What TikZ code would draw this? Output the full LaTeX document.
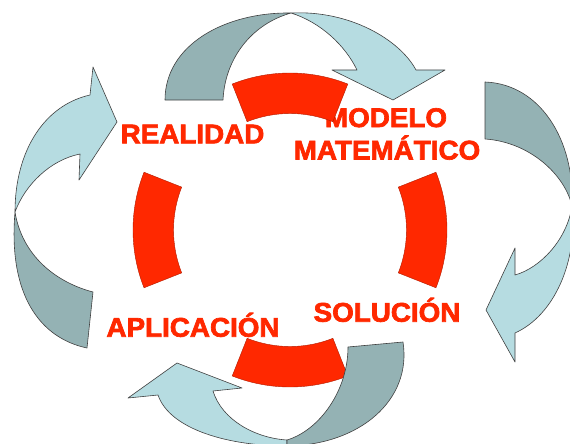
\documentclass[tikz,border=0pt]{standalone}
\usepackage{fontspec}
\setmainfont{Liberation Sans}
\newfontfamily\labelfont{Liberation Sans}[UprightFont={* Bold},UprightFeatures={FakeBold=2.5}]
\usetikzlibrary{calc}
\definecolor{backband}{RGB}{148,178,180}
\definecolor{frontband}{RGB}{182,220,225}
\definecolor{ringred}{RGB}{255,40,0}
\newcommand{\widelabel}[1]{\scalebox{1.03}[1]{#1}}
\begin{document}
\begin{tikzpicture}[x=1pt,y=-1pt,
  bandback/.style={fill=backband,draw=black!75,line width=0.6pt,line join=round},
  bandfront/.style={fill=frontband,draw=black!75,line width=0.6pt,line join=round},
  ringpiece/.style={fill=ringred,draw=ringred!70!black,line width=0.4pt},
  stagelabel/.style={anchor=base,text=ringred,font=\fontsize{27}{27}\selectfont\labelfont,inner sep=0pt}]
\useasboundingbox (0,0) rectangle (570,444);
\clip (0,0) rectangle (570,444);
% labels (drawn first: the ring covers part of the M)
\node[stagelabel] (realidad) at (192.5,143.3) {\widelabel{REALIDAD}};
\node[stagelabel] (modelo) at (386,127) {\widelabel{MODELO}};
\node[stagelabel] (matematico) at (387,159.5) {\widelabel{MATEMÁTICO}};
\node[stagelabel] (solucion) at (387,321.7) {\widelabel{SOLUCIÓN}};
\node[stagelabel] (aplicacion) at (193,336.7) {\widelabel{APLICACIÓN}};
% red ring pieces
\coordinate (c) at (290,230);
\foreach \m in {0,90,180,270}{
  \draw[ringpiece] ($(c)+(\m-21.6:157)$) arc[start angle=\m-21.6,end angle=\m+21.6,radius=157]
    -- ($(c)+(\m+21.6:116.5)$) arc[start angle=\m+21.6,end angle=\m-21.6,radius=116.5] -- cycle;
}
% top arrow
\draw[bandback] (165,100) -- (223,100) .. controls (225,58) and (252,24) .. (291,13)
  .. controls (225,12) and (165,45) .. (165,100) -- cycle;
\draw[bandfront] (291,13) .. controls (350,10) and (400,40) .. (416,70) -- (445,70) -- (393,100)
  -- (332,70) -- (357,70) .. controls (345,45) and (320,22) .. (291,13) -- cycle;
% right arrow
\draw[bandback] (485,82) .. controls (540,84) and (575,140) .. (572,206)
  .. controls (565,175) and (530,142) .. (485,139) -- cycle;
\draw[bandfront] (572,206) .. controls (578,260) and (555,315) .. (515,333) -- (515,362) -- (486,310)
  -- (515,248) -- (515,275) .. controls (540,268) and (567,240) .. (572,206) -- cycle;
% left arrow
\draw[bandback] (87,348) .. controls (40,338) and (8,295) .. (15,212)
  .. controls (22,255) and (55,282) .. (93,292) -- cycle;
\draw[bandfront] (15,212) .. controls (15,150) and (45,105) .. (90,95) -- (93,67) -- (117,122)
  -- (79,180) -- (80,154) .. controls (50,160) and (25,185) .. (15,212) -- cycle;
% bottom arrow
\draw[bandfront] (158,395) .. controls (170,430) and (230,446) .. (287,446) -- (287,440)
  .. controls (255,438) and (222,420) .. (213,391) -- (242,388) -- (177,363) -- (128,398) -- cycle;
\draw[bandback] (348,347) -- (403,342) .. controls (412,400) and (360,445) .. (287,446) -- (287,440)
  .. controls (320,430) and (348,390) .. (348,347) -- cycle;
\end{tikzpicture}
\end{document}
